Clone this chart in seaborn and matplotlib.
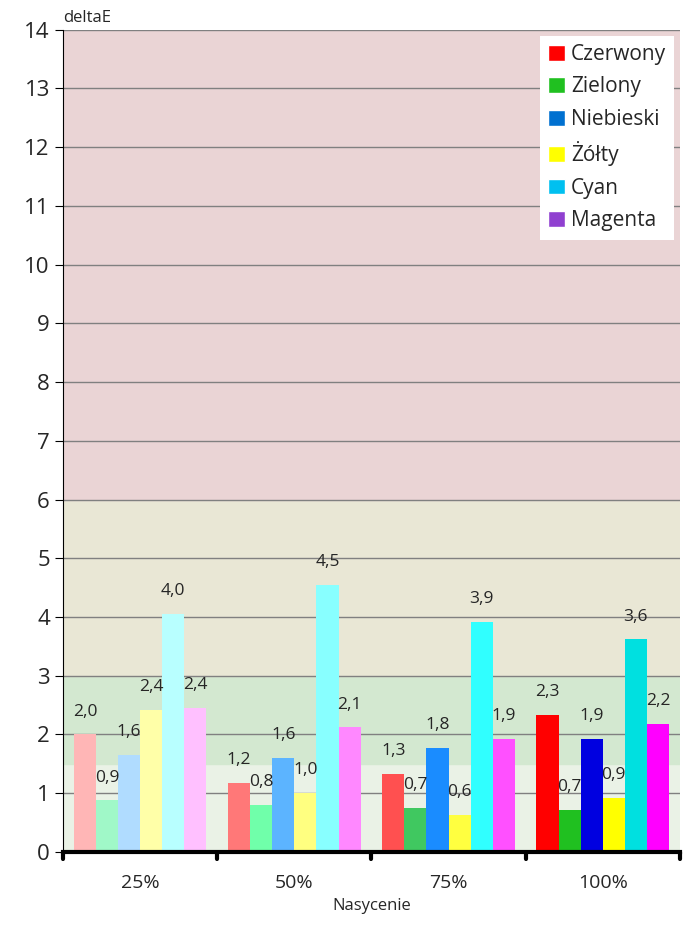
import matplotlib
matplotlib.use('Agg')
import matplotlib.pyplot as plt
import seaborn as sns
import pandas as pd
from matplotlib.patches import Patch

sns.set_style('white')
plt.rcParams['font.family'] = ['Open Sans', 'DejaVu Sans']

groups = ['25%', '50%', '75%', '100%']
colors_names = ['Czerwony', 'Zielony', 'Niebieski', 'Żółty', 'Cyan', 'Magenta']
values = [
    [2.0, 0.88, 1.65, 2.42, 4.05, 2.45],
    [1.17, 0.8, 1.6, 1.0, 4.55, 2.12],
    [1.33, 0.75, 1.77, 0.63, 3.92, 1.92],
    [2.33, 0.72, 1.92, 0.92, 3.62, 2.18],
]
labels = [
    ['2,0', '0,9', '1,6', '2,4', '4,0', '2,4'],
    ['1,2', '0,8', '1,6', '1,0', '4,5', '2,1'],
    ['1,3', '0,7', '1,8', '0,6', '3,9', '1,9'],
    ['2,3', '0,7', '1,9', '0,9', '3,6', '2,2'],
]
bar_colors = [
    ['#ffb6b6', '#a0f8c8', '#b0dcff', '#ffffa8', '#b8ffff', '#ffc0ff'],
    ['#ff7878', '#70ffaa', '#5cb4ff', '#ffff80', '#88ffff', '#ff88ff'],
    ['#ff5050', '#40c860', '#1a8cff', '#ffff40', '#30ffff', '#ff50ff'],
    ['#ff0000', '#20c020', '#0000e0', '#ffff00', '#00e0e0', '#ff00ff'],
]
legend_colors = ['#ff0000', '#20c020', '#0070d0', '#ffff00', '#00c0f0', '#9040d0']

rows = []
for g, vals in zip(groups, values):
    for c, v in zip(colors_names, vals):
        rows.append({'Nasycenie': g, 'kolor': c, 'deltaE': v})
df = pd.DataFrame(rows)

fig = plt.figure(figsize=(6.93, 9.30), dpi=100)
ax = fig.add_axes([0.091, 0.084, 0.890, 0.884])

ax.axhspan(0, 1.5, color='#eaf2e6', zorder=0)
ax.axhspan(1.5, 3, color='#d3e8d0', zorder=0)
ax.axhspan(3, 6, color='#e9e7d5', zorder=0)
ax.axhspan(6, 14, color='#ead4d5', zorder=0)
for y in range(1, 15):
    ax.axhline(y, color='#808080', lw=1, zorder=1)

sns.barplot(data=df, x='Nasycenie', y='deltaE', hue='kolor', hue_order=colors_names,
            order=groups, width=0.86, ax=ax, legend=False, zorder=2, saturation=1)

for j, cont in enumerate(ax.containers):
    for i, bar in enumerate(cont):
        bar.set_facecolor(bar_colors[i][j])
        bar.set_edgecolor('none')
        ax.text(bar.get_x() + bar.get_width() / 2, bar.get_height() + 0.25, labels[i][j],
                ha='center', va='bottom', fontsize=12.5, zorder=3)

ax.set_ylim(0, 14)
ax.set_xlim(-0.5, 3.5)
ax.set_yticks(range(0, 15))
ax.tick_params(axis='y', labelsize=16, length=6, left=True, direction='out', color='black')
ax.tick_params(axis='x', labelsize=14, length=0, pad=16)
for s in ['top', 'right']:
    ax.spines[s].set_visible(False)
ax.spines['left'].set_color('black')
ax.spines['bottom'].set_color('black')
ax.spines['bottom'].set_linewidth(3)
for x in [-0.5, 0.5, 1.5, 2.5, 3.5]:
    ax.plot([x, x], [0, -0.12], color='black', lw=3, clip_on=False)
ax.set_xlabel('Nasycenie', fontsize=12)
ax.set_ylabel('')
ax.text(0.0, 1.005, 'deltaE', transform=ax.transAxes, fontsize=12, ha='left', va='bottom')

handles = [Patch(facecolor=c, label=n) for c, n in zip(legend_colors, colors_names)]
leg = ax.legend(handles=handles, loc='upper right', bbox_to_anchor=(0.998, 0.998), fontsize=15,
                frameon=True, fancybox=False, framealpha=1, edgecolor='white',
                handlelength=0.8, handleheight=0.8, handletextpad=0.3, borderpad=0.4,
                labelspacing=0.55, borderaxespad=0.2)
leg.get_frame().set_linewidth(0)

fig.savefig('out.png', dpi=100)
